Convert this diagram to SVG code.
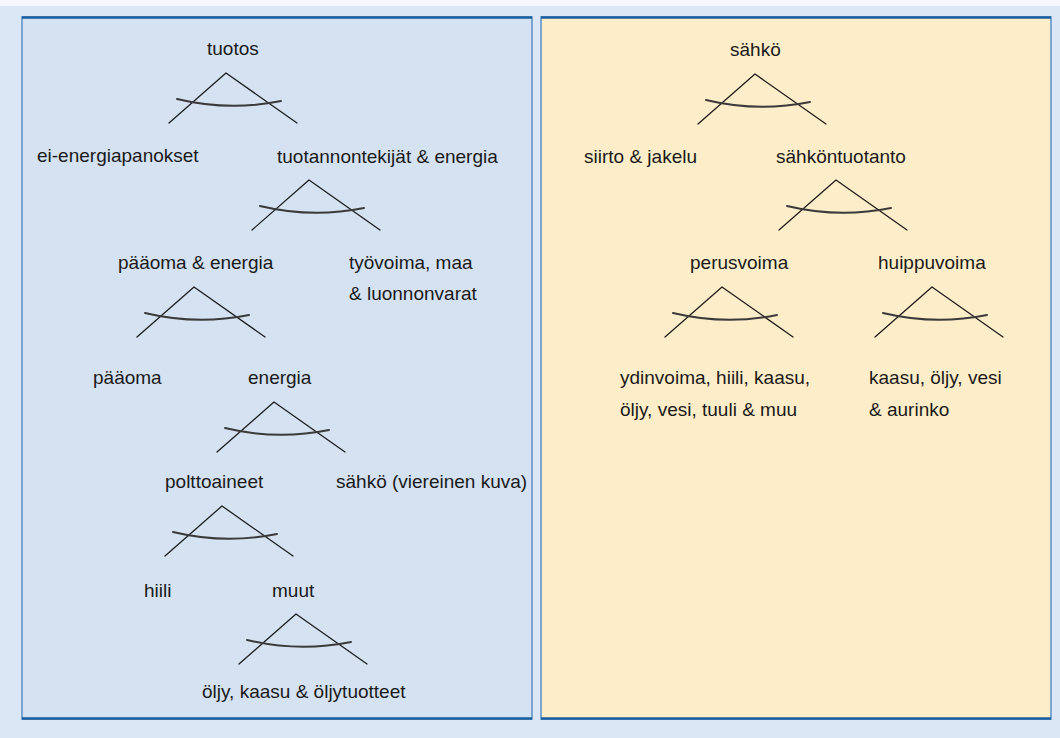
<svg xmlns="http://www.w3.org/2000/svg" xmlns:xlink="http://www.w3.org/1999/xlink" width="1060" height="738" viewBox="0 0 1060 738">
<style>
.t{font-family:"Liberation Sans",Arial,sans-serif;font-size:19px;fill:#1a1a1a}
.leg{fill:none;stroke:#1e1e1e;stroke-width:1.3;stroke-linecap:round;stroke-linejoin:round}
.arc{fill:none;stroke:#3a3a3a;stroke-width:2;stroke-linecap:round}
.edge{stroke:#1b5e9e;stroke-width:2.5}
</style>
<defs>
<g id="tri">
<path class="leg" d="M-57,50 L0,0 L71,50"/>
<path class="arc" d="M-49,26 Q3,38.5 55,28"/>
</g>
</defs>
<rect x="0" y="0" width="1060" height="738" fill="#dbe7f5"/>
<rect x="0" y="0" width="1060" height="6" fill="#f4f8fc"/>
<g id="panel-left">
<rect x="22" y="17" width="510" height="702" fill="#d5e2f1" stroke="#5f8fc4" stroke-width="1.5"/>
<line class="edge" x1="22" y1="17.5" x2="532" y2="17.5"/>
<line class="edge" x1="22" y1="718.5" x2="532" y2="718.5"/>
</g>
<g id="panel-right">
<rect x="541" y="17" width="510" height="702" fill="#fdeec9" stroke="#5f8fc4" stroke-width="1.5"/>
<line class="edge" x1="541" y1="17.5" x2="1051" y2="17.5"/>
<line class="edge" x1="541" y1="718.5" x2="1051" y2="718.5"/>
</g>
<g id="connectors">
<use xlink:href="#tri" href="#tri" x="226" y="73"/>
<use xlink:href="#tri" href="#tri" x="309" y="180"/>
<use xlink:href="#tri" href="#tri" x="194" y="287"/>
<use xlink:href="#tri" href="#tri" x="274" y="402"/>
<use xlink:href="#tri" href="#tri" x="222" y="506"/>
<use xlink:href="#tri" href="#tri" x="296" y="614"/>
<use xlink:href="#tri" href="#tri" x="755" y="74"/>
<use xlink:href="#tri" href="#tri" x="836" y="180"/>
<use xlink:href="#tri" href="#tri" x="722" y="287"/>
<use xlink:href="#tri" href="#tri" x="932" y="287"/>
</g>
<g id="n-tuotos"><text class="t" x="207" y="55">tuotos</text></g>
<g id="n-ei-energia"><text class="t" x="37" y="162">ei-energiapanokset</text></g>
<g id="n-tuotannontekijat"><text class="t" x="277" y="163">tuotannontekijät &amp; energia</text></g>
<g id="n-paaoma-energia"><text class="t" x="118" y="269">pääoma &amp; energia</text></g>
<g id="n-tyovoima"><text class="t" x="349" y="269">työvoima, maa</text><text class="t" x="349" y="300">&amp; luonnonvarat</text></g>
<g id="n-paaoma"><text class="t" x="93" y="384">pääoma</text></g>
<g id="n-energia"><text class="t" x="248" y="384">energia</text></g>
<g id="n-polttoaineet"><text class="t" x="165" y="488">polttoaineet</text></g>
<g id="n-sahko-viereinen"><text class="t" x="336" y="488">sähkö (viereinen kuva)</text></g>
<g id="n-hiili"><text class="t" x="144" y="597">hiili</text></g>
<g id="n-muut"><text class="t" x="272" y="597">muut</text></g>
<g id="n-oljy"><text class="t" x="202" y="698">öljy, kaasu &amp; öljytuotteet</text></g>
<g id="n-sahko"><text class="t" x="730" y="56">sähkö</text></g>
<g id="n-siirto"><text class="t" x="584" y="163">siirto &amp; jakelu</text></g>
<g id="n-sahkontuotanto"><text class="t" x="776" y="163">sähköntuotanto</text></g>
<g id="n-perusvoima"><text class="t" x="690" y="269">perusvoima</text></g>
<g id="n-huippuvoima"><text class="t" x="878" y="269">huippuvoima</text></g>
<g id="n-perus-lahteet"><text class="t" x="620" y="384">ydinvoima, hiili, kaasu,</text><text class="t" x="620" y="416">öljy, vesi, tuuli &amp; muu</text></g>
<g id="n-huippu-lahteet"><text class="t" x="869" y="384">kaasu, öljy, vesi</text><text class="t" x="869" y="416">&amp; aurinko</text></g>
</svg>
